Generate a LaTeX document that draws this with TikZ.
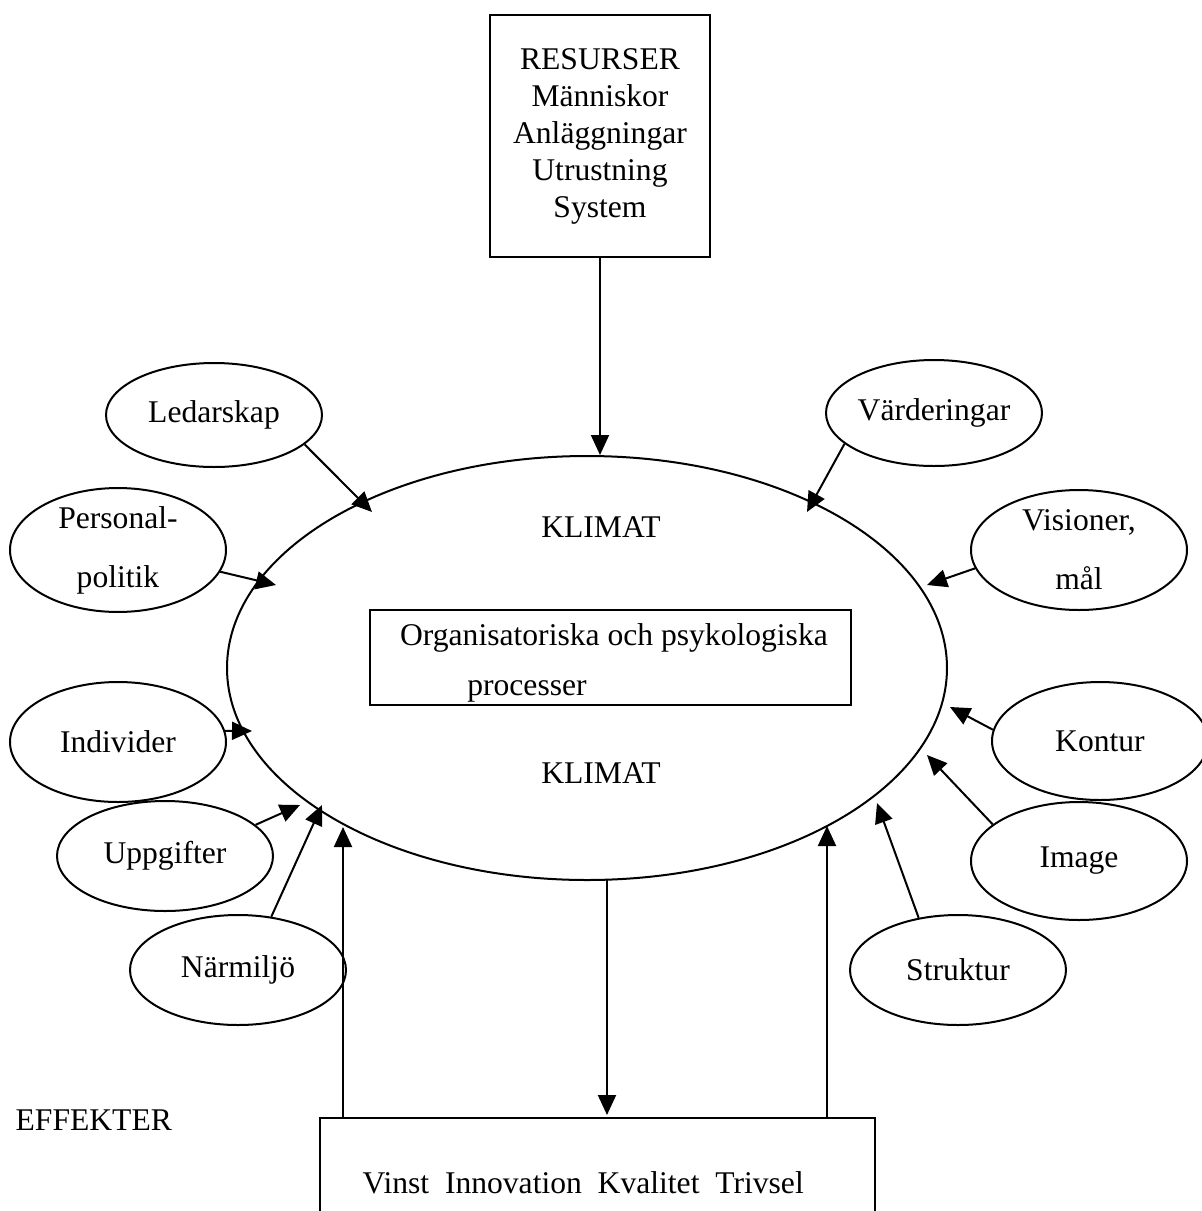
\documentclass[tikz,border=0pt]{standalone}
\usepackage{fontspec}
\setmainfont{Liberation Serif}
\usetikzlibrary{shapes.geometric,arrows.meta}

\begin{document}
\begin{tikzpicture}[x=0.5pt,y=-0.5pt,line width=1pt,
  font=\fontsize{15.8pt}{18.5pt}\selectfont,
  faktor/.style={draw,ellipse,minimum width=108pt,minimum height=55pt,inner sep=0pt,align=center},
  ruta/.style={draw,rectangle,inner sep=0pt},
  pil/.style={-{Triangle[length=10pt,width=9pt]}}]
\useasboundingbox (0,0) rectangle (1202,1211);

% resurser och klimat
\node[ruta,minimum width=110pt,minimum height=121pt,align=center] (res) at (600,136)
  {RESURSER\\Människor\\Anläggningar\\Utrustning\\System};
\node[draw,ellipse,minimum width=360pt,minimum height=212pt,inner sep=0pt] (klimat) at (587,668) {};
\node (klim1) at (601,527) {KLIMAT};
\node (klim2) at (601,773) {KLIMAT};
\node[ruta,minimum width=240.5pt,minimum height=47.5pt] (proc) at (610.5,657.5) {};
\node (proc1) at (614,638) {Organisatoriska och psykologiska};
\node (proc2) at (527,691) {processer};

% faktorer runt klimatet
\node[faktor,minimum height=52pt] (led) at (214,415) {Ledarskap};
\node[faktor,minimum height=60pt] (pers) at (118,550) {Personal-\\[11pt]politik};
\node[faktor,minimum height=60pt] (ind) at (118,742) {Individer};
\node[faktor] (upp) at (165,856) {Uppgifter};
\node[faktor] (nar) at (238,970) {Närmiljö};
\node[faktor,minimum height=53pt] (vard) at (934,413) {Värderingar};
\node[faktor,minimum height=60pt] (vis) at (1079,550) {Visioner,\\[11pt]mål};
\node[faktor,minimum height=59pt] (kon) at (1100,741) {Kontur};
\node[faktor,minimum height=59pt] (img) at (1079,861) {Image};
\node[faktor] (str) at (958,970) {Struktur};

% effekter
\node[anchor=west] (effrub) at (8,1120) {EFFEKTER};
\node[ruta,minimum width=277.5pt,minimum height=65pt] (eff) at (597.5,1183) {};
\node[anchor=west] (efftxt) at (355,1183) {Vinst\ \ Innovation\ \ Kvalitet\ \ Trivsel};

\coordinate (tLed) at (372,512);
\coordinate (tPers) at (276,585);
\coordinate (tInd) at (252,731);
\coordinate (tUpp) at (300,805);
\coordinate (tNar) at (322,805);
\coordinate (tVard) at (807,512);
\coordinate (tVis) at (927,585);
\coordinate (tKon) at (950,707);
\coordinate (tImg) at (927,755);
\coordinate (tStr) at (877,803);
\coordinate (sUpL) at (343,1118);
\coordinate (tUpL) at (343,827);
\coordinate (sUpR) at (827,1118);
\coordinate (tUpR) at (827,826);
\coordinate (sNed) at (607,880);
\coordinate (tNed) at (607,1115);

\draw[pil] (res) -- (res |- klimat.north);
\draw[pil] (led.-18) -- (tLed);
\draw[pil] (pers.-12) -- (tPers);
\draw[pil] (ind.6) -- (tInd);
\draw[pil] (upp.19) -- (tUpp);
\draw[pil] (nar.58) -- (tNar);
\draw[pil] (vard.199) -- (tVard);
\draw[pil] (vis.190) -- (tVis);
\draw[pil] (kon.174) -- (tKon);
\draw[pil] (img.157) -- (tImg);
\draw[pil] (str.127) -- (tStr);
\draw[pil] (sUpL) -- (tUpL);
\draw[pil] (sUpR) -- (tUpR);
\draw[pil] (sNed) -- (tNed);
\end{tikzpicture}
\end{document}
